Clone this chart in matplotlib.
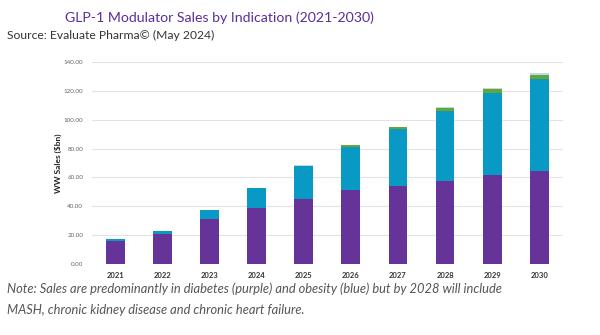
import numpy as np
import matplotlib.pyplot as plt

years = ["2021", "2022", "2023", "2024", "2025", "2026", "2027", "2028", "2029", "2030"]
diabetes = [16.0, 20.6, 31.0, 38.8, 45.3, 51.1, 54.1, 57.5, 61.5, 64.7]
obesity = [1.3, 2.5, 6.2, 14.1, 22.6, 30.2, 39.2, 48.7, 57.2, 63.5]
mash_ckd = [0.0, 0.0, 0.0, 0.0, 0.3, 1.0, 1.4, 2.1, 2.8, 3.0]
heart_failure = [0.0, 0.0, 0.0, 0.0, 0.1, 0.2, 0.2, 0.5, 0.3, 0.9]

colors = ["#663399", "#0899c4", "#6aa436", "#b6dde9"]

plt.rcParams['font.family'] = ['Lato', 'DejaVu Sans']

fig = plt.figure(figsize=(6.0, 3.35), dpi=100)
ax = fig.add_axes([0.153, 0.212, 0.785, 0.603])

x = np.arange(len(years))
bottom = np.zeros(len(years))
for vals, c in zip([diabetes, obesity, mash_ckd, heart_failure], colors):
    ax.bar(x, vals, width=0.4, bottom=bottom, color=c, zorder=3)
    bottom += np.array(vals)

ax.set_xlim(-0.5, 9.5)
ax.set_ylim(0, 140)
ax.set_yticks(np.arange(0, 141, 20))
ax.set_yticklabels([f"{v:.2f}" for v in range(0, 141, 20)], fontsize=4.5, color="#666666")
ax.set_xticks(x)
ax.set_xticklabels(years, fontsize=5.5, color="#333333", fontweight="bold")
ax.tick_params(axis="both", length=0, pad=6)
ax.grid(axis="y", color="#e3e3e3", linewidth=0.8, zorder=0)
for s in ax.spines.values():
    s.set_visible(False)
ax.set_ylabel("WW Sales ($bn)", fontsize=6, fontweight="bold", color="#222222", labelpad=1)

fig.text(0.108, 0.948, "GLP-1 Modulator Sales by Indication (2021-2030)",
         fontsize=10.2, color="#5b2d9a", va="center")
fig.text(0.012, 0.895, "Source: Evaluate Pharma\u00a9 (May 2024)",
         fontsize=8.7, color="#333333", va="center")
fig.text(0.012, 0.137, "Note: Sales are predominantly in diabetes (purple) and obesity (blue) but by 2028 will include",
         fontsize=9.3, color="#555555", style="italic", va="center")
fig.text(0.012, 0.075, "MASH, chronic kidney disease and chronic heart failure.",
         fontsize=9.3, color="#555555", style="italic", va="center")

fig.savefig("out.png", dpi=100)
